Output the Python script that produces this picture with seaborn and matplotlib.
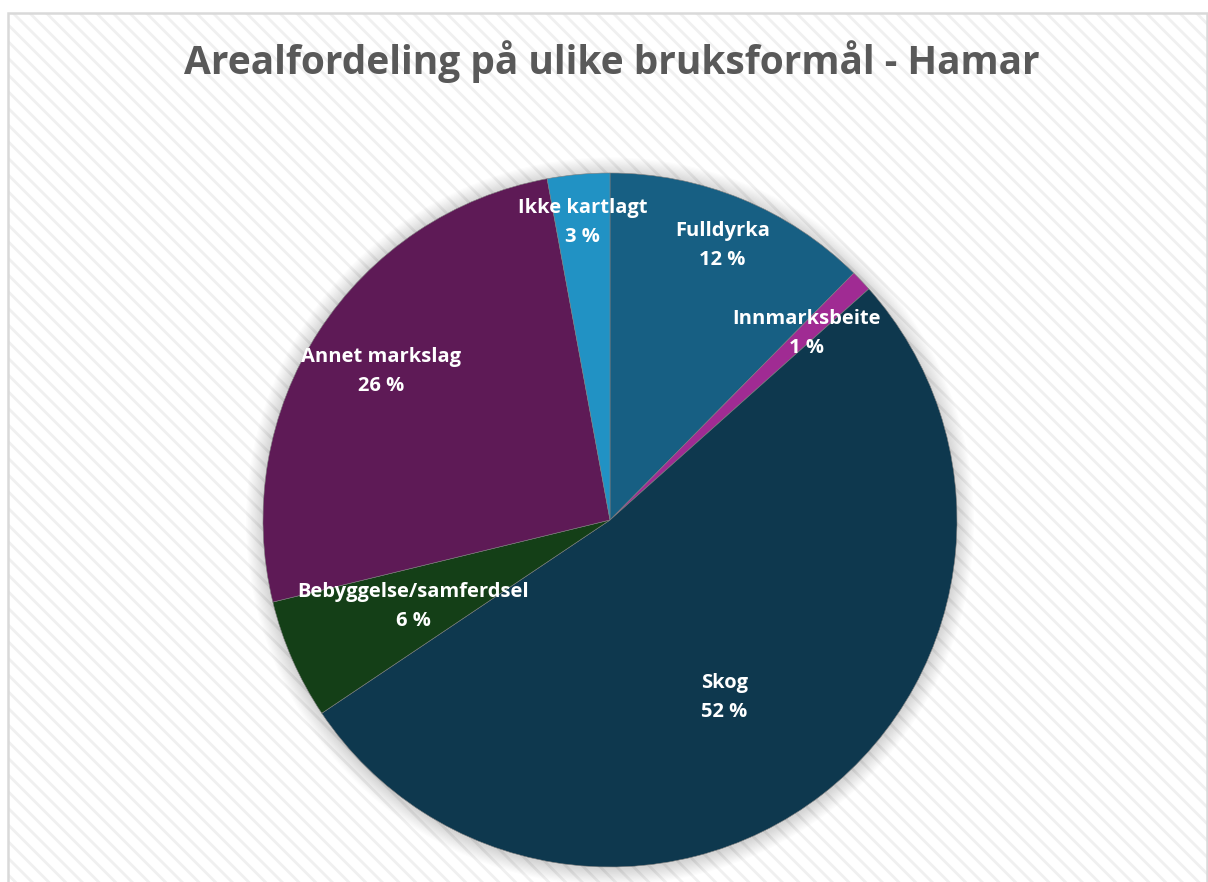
import numpy as np
import seaborn as sns
import matplotlib.pyplot as plt
from matplotlib.patches import Rectangle, Circle

# data
categories = ["Fulldyrka", "Innmarksbeite", "Skog", "Bebyggelse/samferdsel",
              "Annet markslag", "Ikke kartlagt"]
shares = [12.4, 1.0, 52.2, 5.6, 25.9, 2.9]
pct_labels = ["12 %", "1 %", "52 %", "6 %", "26 %", "3 %"]
colors = ["#175F83", "#A02B93", "#0E384E", "#143F17", "#5E1A56", "#2192C4"]

# label placement: share of radius, and turn (deg) away from mid-slice
label_dist = [0.855, 0.78, 0.608, 0.62, 0.785, 0.86]
label_shift = [0, 0, 5, 0, 0, 0]

sns.set_theme(style="white")
plt.rcParams["font.family"] = ["Open Sans", "DejaVu Sans"]
plt.rcParams["hatch.linewidth"] = 2.0

W, H = 1208, 882
fig = plt.figure(figsize=(W / 100, H / 100), dpi=100)
fig.patch.set_facecolor("white")

# chart area: striped background + light gray frame
bg = Rectangle((8 / W, -0.01), 1.02, (H - 13) / H + 0.01, transform=fig.transFigure,
               facecolor="white", edgecolor="#F0F0F0", hatch="\\\\", lw=0, zorder=-3)
fig.patches.append(bg)
frame = Rectangle((8 / W, -0.01), (W - 9) / W, (H - 13) / H + 0.01, transform=fig.transFigure,
                  facecolor="none", edgecolor="#D9D9D9", lw=1.8, zorder=-2)
fig.patches.append(frame)

cx, cy, r = 610, 520, 347
ax = fig.add_axes([(cx - r) / W, (H - cy - r) / H, 2 * r / W, 2 * r / H])

# soft shadow around the pie
for k in range(14):
    ax.add_patch(Circle((0, -0.004), 1 + 0.0035 * (14 - k), color="#000000",
                        alpha=0.012, lw=0, clip_on=False, zorder=1))

wedges, _ = ax.pie(shares, colors=colors, startangle=90, counterclock=False,
                   radius=1, wedgeprops=dict(linewidth=0.4, edgecolor="#7f7f7f"))
for w in wedges:
    w.set_zorder(2)

ax.set_xlim(-1, 1)
ax.set_ylim(-1, 1)
ax.set_aspect("equal")
ax.axis("off")

# labels inside slices
cum = np.cumsum([0] + shares[:-1])
for name, pct, start, val, d, s in zip(categories, pct_labels, cum, shares,
                                       label_dist, label_shift):
    mid = np.deg2rad(90 - (start + val / 2) * 3.6 - s)
    ax.text(d * np.cos(mid), d * np.sin(mid), f"{name}\n{pct}", ha="center", va="center",
            color="white", fontsize=14.5, fontweight="bold", linespacing=1.6, zorder=3)

fig.text(612 / W, 1 - 62 / H, "Arealfordeling på ulike bruksformål - Hamar",
         ha="center", va="center", fontsize=28, fontweight="bold", color="#595959")

fig.savefig("out.png", dpi=100)
